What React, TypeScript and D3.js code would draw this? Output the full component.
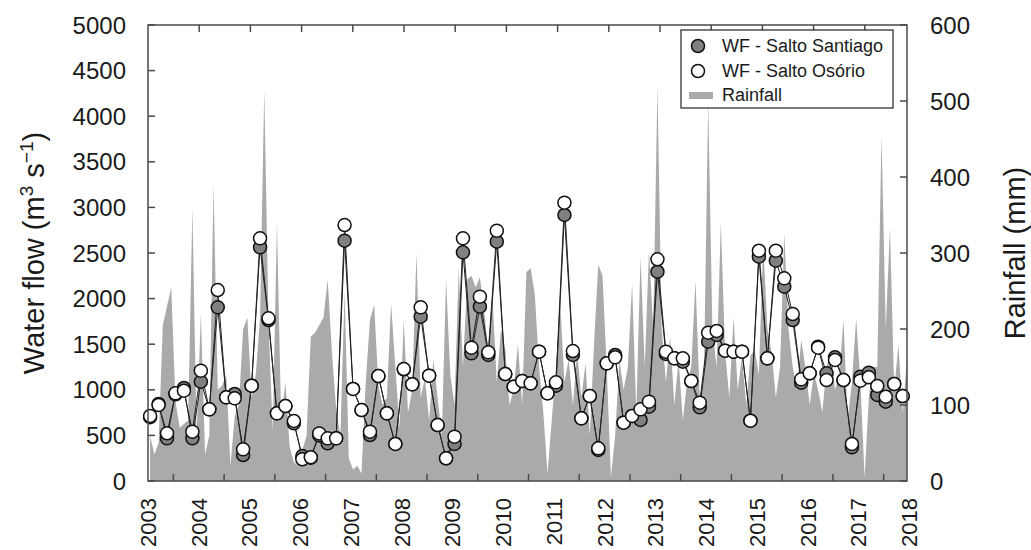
import React from "react";
import * as d3 from "d3";

// Bi-monthly water flow (m3 s-1), Jan 2003 onwards
const flowSantiago = [
  700, 845, 468, 950, 1020, 468, 1089, 786, 1904, 917,
  954, 285, 1045, 2562, 1765, 742, 822, 632, 274, 255,
  500, 413, 470, 2635, 1009, 778, 504, 1151, 742, 406,
  1225, 1060, 1802, 1155, 614, 249, 406, 2507, 1400, 1911,
  1382, 2624, 1173, 1034, 1096, 1071, 1418, 961, 1045, 2917,
  1382, 687, 932, 340, 1290, 1382, 640, 713, 669, 815,
  2295, 1393, 1345, 1308, 1096, 808, 1527, 1601, 1429, 1418,
  1418, 661, 2460, 1345, 2416, 2130, 1765, 1078, 1181, 1473,
  1181, 1356, 1107, 369, 1144, 1188, 943, 870, 1064, 932,
];

const flowOsorio = [
  713, 833, 523, 961, 990, 541, 1210, 786, 2094, 917,
  906, 347, 1045, 2661, 1784, 742, 822, 658, 238, 260,
  522, 468, 468, 2807, 1009, 778, 541, 1151, 742, 406,
  1228, 1060, 1904, 1155, 614, 249, 486, 2661, 1462, 2021,
  1411, 2745, 1173, 1034, 1096, 1071, 1418, 961, 1082, 3052,
  1425, 687, 932, 358, 1290, 1356, 640, 713, 786, 870,
  2431, 1418, 1345, 1345, 1096, 859, 1626, 1645, 1429, 1418,
  1418, 661, 2525, 1345, 2525, 2222, 1831, 1115, 1181, 1462,
  1107, 1327, 1107, 406, 1100, 1137, 1042, 924, 1064, 932,
];

// Monthly rainfall (mm), Jan 2003 – Dec 2017
const rainfall = [
  60, 35, 50, 205, 230, 255, 105, 70, 75, 80, 360, 60,
  220, 35, 60, 390, 120, 125, 140, 20, 85, 100, 200, 215,
  110, 140, 215, 515, 210, 65, 340, 80, 130, 45, 25, 20,
  40, 60, 190, 195, 205, 215, 265, 170, 95, 60, 250, 30,
  15, 20, 10, 130, 212, 232, 125, 100, 110, 234, 150, 70,
  212, 90, 120, 300, 110, 135, 80, 160, 110, 60, 265, 140,
  100, 280, 150, 265, 270, 255, 268, 225, 170, 240, 130, 200,
  175, 100, 120, 180, 100, 275, 280, 245, 150, 90, 10, 80,
  150, 235, 130, 160, 100, 170, 110, 155, 60, 180, 285, 270,
  150, 5, 60, 160, 120, 150, 260, 90, 295, 150, 304, 200,
  520, 200, 130, 190, 100, 160, 80, 130, 150, 264, 110, 140,
  500, 200, 150, 340, 170, 110, 215, 120, 163, 100, 165, 172,
  140, 313, 200, 170, 110, 150, 326, 200, 150, 120, 186, 150,
  100, 142, 120, 90, 150, 172, 120, 140, 212, 80, 130, 214,
  130, 5, 110, 150, 150, 455, 200, 333, 120, 179, 90, 160,
];

const yearLabels = [2003, 2004, 2005, 2006, 2007, 2008, 2009, 2010, 2011, 2012, 2013, 2014, 2015, 2016, 2017, 2018];
const flowTicks = [0, 500, 1000, 1500, 2000, 2500, 3000, 3500, 4000, 4500, 5000];
const rainTicks = [0, 100, 200, 300, 400, 500, 600];
const startYear = 2003;

const FONT = "Arial, 'Liberation Sans', Helvetica, sans-serif";
const INK = "#1a1a1a";
const AXIS = "#4a4a4a";

export default function App() {
  const W = 1031;
  const H = 550;
  const plot = { left: 148, right: 907, top: 25, bottom: 481 };

  const x = d3.scaleLinear().domain([2003, 2018]).range([plot.left, 909]);
  const xTop = d3.scaleLinear().domain([2003, 2018]).range([plot.left, 916]);
  const yFlow = d3.scaleLinear().domain([0, 5000]).range([plot.bottom, plot.top]);
  const yRain = d3.scaleLinear().domain([0, 600]).range([plot.bottom, plot.top]);

  const rainPts = rainfall.map((v, k) => ({ t: startYear + k / 12 + 1 / 24, v }));
  const santPts = flowSantiago.map((v, i) => ({ t: startYear + (2 * i) / 12 + 1 / 24, v }));
  const osoPts = flowOsorio.map((v, i) => ({ t: startYear + (2 * i) / 12 + 1 / 24, v }));

  const rainArea = d3
    .area<{ t: number; v: number }>()
    .x((d) => x(d.t))
    .y0(yRain(0))
    .y1((d) => yRain(d.v))(rainPts) as string;

  const flowLine = d3
    .line<{ t: number; v: number }>()
    .x((d) => x(d.t))
    .y((d) => yFlow(d.v));

  const tickLen = 7;
  const r = 6.5;

  return (
    <svg
      width={W}
      height={H}
      style={{ position: "absolute", left: 0, top: 0, background: "#fff" }}
      fontFamily={FONT}
    >
      <defs>
        <clipPath id="plotClip">
          <rect x={plot.left} y={plot.top} width={plot.right - plot.left} height={plot.bottom - plot.top} />
        </clipPath>
      </defs>

      {/* rainfall area on the right axis */}
      <path d={rainArea} fill="#aaaaaa" stroke="none" clipPath="url(#plotClip)" />

      {/* water flow lines */}
      <path d={flowLine(santPts) as string} fill="none" stroke="#222" strokeWidth={1} />
      <path d={flowLine(osoPts) as string} fill="none" stroke="#222" strokeWidth={1} />

      {santPts.map((d, i) => (
        <circle key={"s" + i} cx={x(d.t)} cy={yFlow(d.v)} r={r} fill="#808080" stroke="#111" strokeWidth={1.5} />
      ))}
      {osoPts.map((d, i) => (
        <circle key={"o" + i} cx={x(d.t)} cy={yFlow(d.v)} r={r} fill="#fff" stroke="#111" strokeWidth={1.5} />
      ))}

      {/* frame */}
      <rect
        x={plot.left}
        y={plot.top}
        width={plot.right - plot.left}
        height={plot.bottom - plot.top}
        fill="none"
        stroke={AXIS}
        strokeWidth={1.5}
      />

      {/* left axis */}
      {flowTicks.map((v) => (
        <g key={"lf" + v}>
          <line x1={plot.left} x2={plot.left + tickLen} y1={yFlow(v)} y2={yFlow(v)} stroke={AXIS} strokeWidth={1.5} />
          <text x={126} y={yFlow(v)} dy="0.36em" textAnchor="end" fontSize={24} fill={INK}>
            {v}
          </text>
        </g>
      ))}

      {/* right axis */}
      {rainTicks.map((v) => (
        <g key={"rt" + v}>
          <line x1={plot.right - tickLen} x2={plot.right} y1={yRain(v)} y2={yRain(v)} stroke={AXIS} strokeWidth={1.5} />
          <text x={930} y={yRain(v)} dy="0.36em" textAnchor="start" fontSize={24} fill={INK}>
            {v}
          </text>
        </g>
      ))}

      {/* top ticks at year starts */}
      {yearLabels.slice(1, -1).map((yr) => (
        <line key={"tt" + yr} x1={xTop(yr)} x2={xTop(yr)} y1={plot.top} y2={plot.top + tickLen} stroke={AXIS} strokeWidth={1.5} />
      ))}

      {/* bottom ticks at mid-year */}
      {yearLabels.slice(0, -1).map((yr) => (
        <line
          key={"bt" + yr}
          x1={x(yr + 0.5)}
          x2={x(yr + 0.5)}
          y1={plot.bottom - tickLen}
          y2={plot.bottom}
          stroke={AXIS}
          strokeWidth={1.5}
        />
      ))}

      {/* year labels */}
      {yearLabels.map((yr) => (
        <text
          key={"yl" + yr}
          transform={`translate(${x(yr) + 8},498) rotate(-90)`}
          textAnchor="end"
          fontSize={22}
          fill={INK}
        >
          {yr}
        </text>
      ))}

      {/* axis titles */}
      <text transform="translate(44,253) rotate(-90)" textAnchor="middle" fontSize={29} fill={INK}>
        Water flow (m
        <tspan dy={-11} fontSize={19}>3</tspan>
        <tspan dy={11}> s</tspan>
        <tspan dy={-11} fontSize={19}>−1</tspan>
        <tspan dy={11}>)</tspan>
      </text>
      <text transform="translate(1025,253) rotate(-90)" textAnchor="middle" fontSize={29} fill={INK}>
        Rainfall (mm)
      </text>

      {/* legend */}
      <g>
        <rect x={681} y={30} width={212} height={78} fill="#fff" stroke="#222" strokeWidth={1.2} />
        <circle cx={698} cy={46} r={6.5} fill="#808080" stroke="#111" strokeWidth={1.5} />
        <text x={722} y={46} dy="0.36em" fontSize={18} fill={INK}>
          WF - Salto Santiago
        </text>
        <circle cx={698} cy={71} r={6.5} fill="#fff" stroke="#111" strokeWidth={1.5} />
        <text x={722} y={71} dy="0.36em" fontSize={18} fill={INK}>
          WF - Salto Osório
        </text>
        <rect x={689} y={92} width={24} height={7} fill="#aaaaaa" />
        <text x={722} y={95} dy="0.36em" fontSize={18} fill={INK}>
          Rainfall
        </text>
      </g>
    </svg>
  );
}
